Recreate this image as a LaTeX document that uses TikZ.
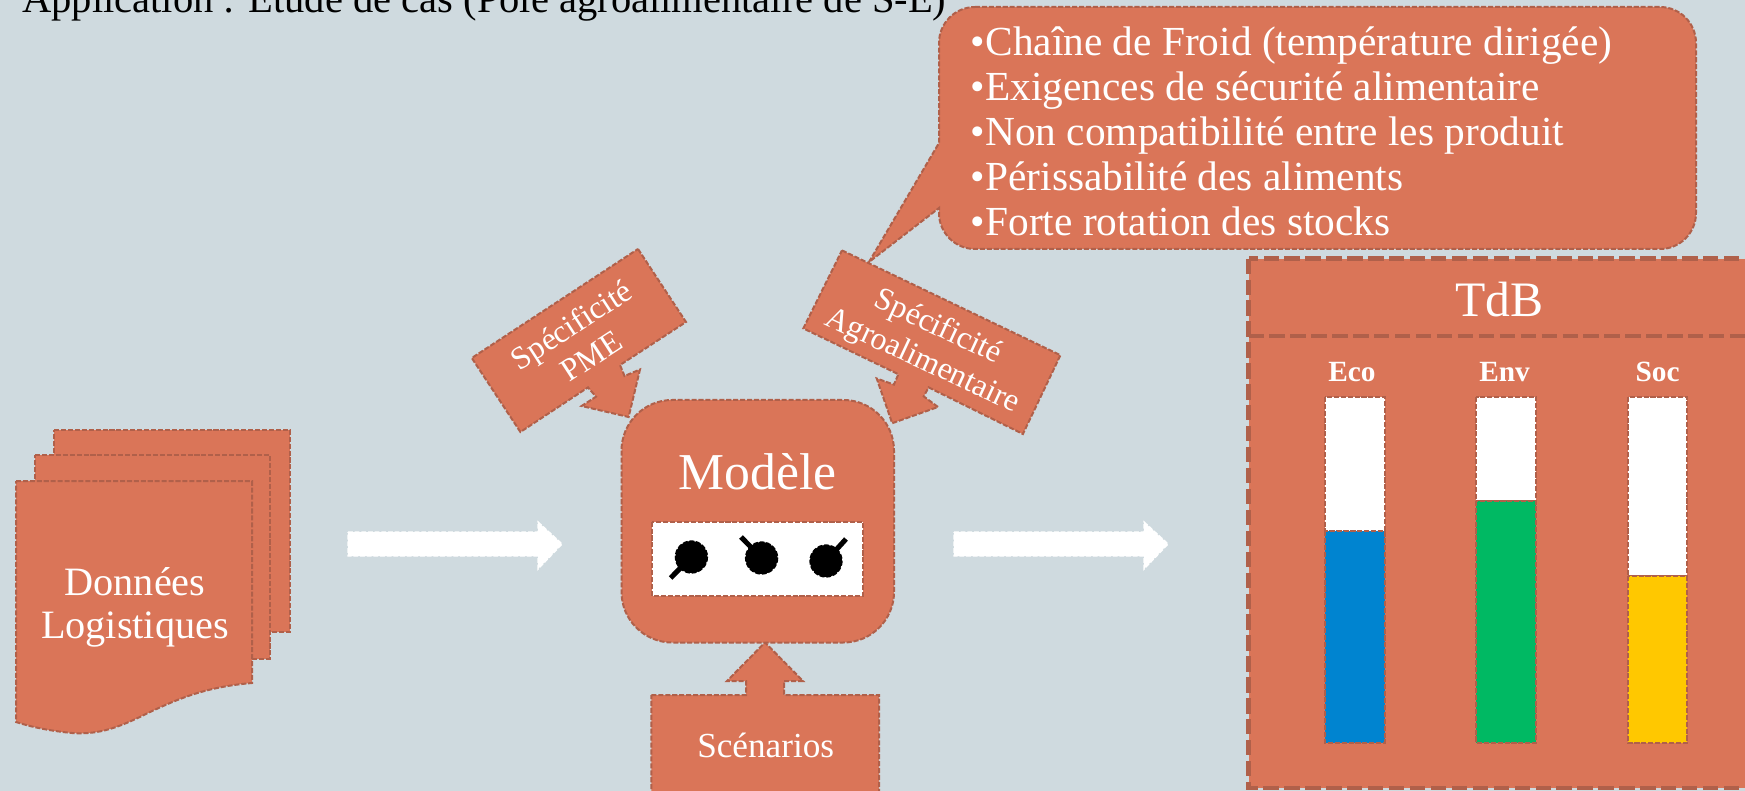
\documentclass[tikz,border=0pt]{standalone}
\usepackage{fontspec}
\setmainfont{Liberation Serif}
\newfontfamily\titlefont{Liberation Serif}
\definecolor{fondbg}{HTML}{CFDADF}
\definecolor{brique}{HTML}{DA7558}
\definecolor{briquedark}{HTML}{B0604A}
\definecolor{barblue}{HTML}{0084D0}
\definecolor{bargreen}{HTML}{00B963}
\definecolor{baryellow}{HTML}{FFC800}
\tikzset{
  thinshape/.style={draw=briquedark,line width=1.5pt,dash pattern=on 3.8pt off 1.4pt,fill=brique},
  thickshape/.style={draw=briquedark,line width=3.4pt,dash pattern=on 11.5pt off 4.2pt},
  blockarrow/.style={draw=white,fill=white,line width=1.1pt,dash pattern=on 3.6pt off 1.4pt},
  knob/.style={draw=black,fill=black,line width=1pt,dash pattern=on 3.6pt off 1.4pt},
  knobhandle/.style={draw=black,line width=3.8pt},
  whitetxt/.style={text=white,inner sep=0pt,align=center},
}
\begin{document}
\begin{tikzpicture}[x=0.75pt,y=0.75pt,yscale=-1,xscale=1]
    \useasboundingbox (0,0) rectangle (1745,791);
    \clip (0,0) rectangle (1745,791);
    \fill [fondbg] (0,0) rectangle (1745,791);

    % Text Node
    \node (titre) [anchor=base west,inner sep=0pt,font=\titlefont\fontsize{30.4}{36}\selectfont] at (22,13) {Application : Étude de cas (Pôle agroalimentaire de S-E)};

    %Shape: Documents
    \draw [thinshape] (54,430) -- (290,430) -- (290,632) -- (54,632) -- cycle ;
    \draw [thinshape] (35,455) -- (269.5,455) -- (269.5,659) -- (35,659) -- cycle ;
    \draw [thinshape] (16,481) -- (252,481) -- (252,683) .. controls (205,687) and (178,699) .. (150,712) .. controls (120,727) and (100,735) .. (72,733) .. controls (52,731) and (35,728) .. (16,722) -- cycle ;

    %Shape: Right Arrow
    \draw [blockarrow] (348,532) -- (538,532) -- (538,522) -- (562,544) -- (538,569) -- (538,556) -- (348,556) -- cycle ;
    %Shape: Right Arrow
    \draw [blockarrow] (954,532) -- (1144,532) -- (1144,522) -- (1168,544) -- (1144,569) -- (1144,556) -- (954,556) -- cycle ;

    %Shape: Rounded Callout
    \draw [thinshape] (975,7) -- (1660,7) arc (-90:0:36) -- (1696,213) arc (0:90:36) -- (975,249) arc (90:180:36) -- (939,208) -- (869,262) -- (939,143) -- (939,43) arc (180:270:36) -- cycle ;

    %Shape: Arrow Callout
    \draw [thinshape] (638,249) -- (686,322) -- (620,365) -- (624.5,376) -- (640,369.5) -- (628.6,417) -- (581.6,406) -- (596,396.7) -- (588,387.4) -- (520.4,432) -- (471.8,358) -- cycle ;
    %Shape: Arrow Callout
    \draw [thinshape] (842,250.4) -- (1060.4,355.2) -- (1022.9,434) -- (928.6,387.4) -- (923.7,396.4) -- (938,407) -- (892.2,423.2) -- (876.7,378.5) -- (893.9,384.6) -- (898.4,374.2) -- (803.3,328.4) -- cycle ;

    %Shape: Arrow Callout
    \draw [thinshape] (651.4,695) -- (746,695) -- (746,681) -- (727,681) -- (765,642.5) -- (803,681) -- (784,681) -- (784,695) -- (879,695) -- (879,800) -- (651.4,800) -- cycle ;

    %Shape: Rounded Rectangle
    \draw [thinshape,rounded corners=38] (621.5,400) rectangle (894,642.5);
    %Shape: Rectangle
    \draw [thinshape,fill=white] (652,521.6) rectangle (863,596);

    %Shape: Knobs
    \draw [knobhandle] (691.4,557) -- (670.6,578) ;
    \draw [knob] (691.4,557) ellipse (16 and 16);
    \draw [knobhandle] (761.6,558) -- (741,537) ;
    \draw [knob] (761.6,558) ellipse (16 and 16);
    \draw [knobhandle] (826,561) -- (846,539) ;
    \draw [knob] (826,561) ellipse (16 and 16);

    %Shape: Rectangle
    \fill [brique] (1248.5,258.6) rectangle (1760,788);
    \draw [thickshape] (1248.5,258.6) rectangle (1760,788);
    %Straight Lines
    \draw [thickshape] (1248.5,336) -- (1760,336) ;

    %Shape: Bars
    \draw [thinshape,fill=white] (1324.8,396.7) rectangle (1384.7,531);
    \draw [thinshape,fill=barblue] (1324.8,531) rectangle (1384.7,743);
    \draw [thinshape,fill=white] (1476.4,396.7) rectangle (1536.4,500.7);
    \draw [thinshape,fill=bargreen] (1476.4,500.7) rectangle (1536.4,743);
    \draw [thinshape,fill=white] (1627.8,396.7) rectangle (1687.4,576.3);
    \draw [thinshape,fill=baryellow] (1627.8,576.3) rectangle (1687.4,743);

    % Text Node
    \node (donnees) [whitetxt,font=\fontsize{30.2}{32.3}\selectfont] at (135,607) {Données\\Logistiques};
    % Text Node
    \node (modele) [whitetxt,anchor=base,font=\fontsize{38.8}{44}\selectfont] at (757.5,489) {Modèle};
    % Text Node
    \node (scenarios) [whitetxt,anchor=base,font=\fontsize{26.4}{30}\selectfont] at (765.7,757) {Scénarios};
    % Text Node
    \node (specpme) [whitetxt,rotate=33,font=\fontsize{24}{27.8}\selectfont] at (581,340) {Spécificité\\PME};
    % Text Node
    \node (specagro) [whitetxt,rotate=-25,font=\fontsize{24}{27.8}\selectfont] at (930,344.5) {Spécificité\\Agroalimentaire};
    % Text Node
    \node (froid) [text=white,inner sep=0pt,align=left,anchor=west,font=\fontsize{31}{33.8}\selectfont] at (970.7,131) {•Chaîne de Froid (température dirigée)\\•Exigences de sécurité alimentaire\\•Non compatibilité entre les produit\\•Périssabilité des aliments\\•Forte rotation des stocks};
    % Text Node
    \node (tdb) [whitetxt,anchor=base,font=\fontsize{37.2}{42}\selectfont] at (1499.5,316.6) {TdB};
    % Text Node
    \node (eco) [whitetxt,anchor=base,font=\bfseries\fontsize{22}{26}\selectfont] at (1352,382) {Eco};
    % Text Node
    \node (env) [whitetxt,anchor=base,font=\bfseries\fontsize{22}{26}\selectfont] at (1504.6,382) {Env};
    % Text Node
    \node (soc) [whitetxt,anchor=base,font=\bfseries\fontsize{22}{26}\selectfont] at (1657.6,382) {Soc};
\end{tikzpicture}
\end{document}
